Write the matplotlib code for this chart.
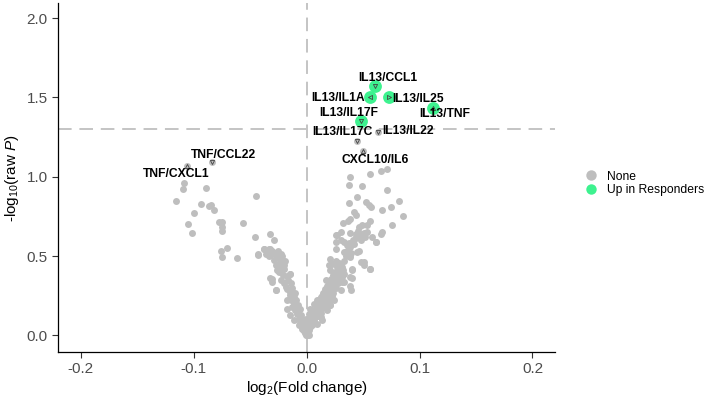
import matplotlib
matplotlib.use('Agg')
import matplotlib.pyplot as plt
from matplotlib.lines import Line2D

plt.rcParams['font.family'] = ['Liberation Sans', 'DejaVu Sans']
plt.rcParams['mathtext.fontset'] = 'custom'
plt.rcParams['mathtext.rm'] = 'Liberation Sans'
plt.rcParams['mathtext.it'] = 'Liberation Sans:italic'
plt.rcParams['mathtext.default'] = 'regular'

# unlabeled / non-significant points (log2 FC, -log10 P)
none_x = [
    # left outer
    -0.1086, -0.1091, -0.0894, -0.1153, -0.0938, -0.0865, -0.0850, -0.0820, -0.0997, -0.0445,
    -0.1050, -0.1012, -0.0776, -0.0752, -0.0746, -0.0746, -0.0564, -0.0460, -0.0319, -0.0289,
    -0.0761, -0.0702, -0.0752, -0.0619, -0.0431, -0.0378, -0.0334, -0.0310, -0.0265, -0.0224,
    -0.0148, -0.0319, -0.0304, -0.0274, -0.0177,
    # left arm
    -0.0431, -0.0378, -0.0357, -0.0319, -0.0304, -0.0259, -0.0215, -0.0289, -0.0274, -0.0259,
    -0.0230, -0.0201, -0.0148, -0.0304, -0.0230, -0.0274, -0.0186, -0.0142, -0.0112, -0.0171,
    -0.0127, -0.0082, -0.0142, -0.0112, -0.0068, -0.0038, -0.0009, 0.0020,
    -0.0235, -0.0215, -0.0195, -0.0245, -0.0175, -0.0210, -0.0160, -0.0195, -0.0140, -0.0170,
    -0.0125, -0.0150, -0.0100, -0.0135, -0.0090, -0.0115, -0.0075, -0.0100, -0.0060, -0.0085,
    -0.0050, -0.0070, -0.0040, -0.0055, -0.0030, -0.0040, -0.0020, -0.0025, -0.0010, -0.0005,
    -0.0280, -0.0330, -0.0255, -0.0230, -0.0190,
    # right outer
    0.0374, 0.0487, 0.0708, 0.0449, 0.0374, 0.0522, 0.0551, 0.0573, 0.0817, 0.0750,
    0.0664, 0.0856, 0.0419, 0.0434, 0.0389, 0.0365, 0.0325, 0.0566, 0.0537, 0.0493,
    0.0463, 0.0758, 0.0664, 0.0655, 0.0619, 0.0507, 0.0434, 0.0272, 0.0265, 0.0257,
    0.0301, 0.0374, 0.0463, 0.0330, 0.0360, 0.0389, 0.0507, 0.0560, 0.0404, 0.0404,
    0.0212, 0.0197, 0.0212, 0.0301, 0.0325, 0.0389, 0.0396, 0.0316, 0.0301, 0.0212,
    0.0383, 0.0566, 0.0655, 0.0708,
    # right arm
    0.0257, 0.0301, 0.0389, 0.0434, 0.0478, 0.0537, 0.0581, 0.0611, 0.0330, 0.0360,
    0.0345, 0.0389, 0.0449, 0.0478, 0.0507, 0.0566, 0.0227, 0.0272, 0.0316, 0.0330,
    0.0404, 0.0389, 0.0330, 0.0242, 0.0183, 0.0153, 0.0124, 0.0095, 0.0065, 0.0035,
    0.0020, -0.0009, -0.0024, 0.0242, 0.0212, 0.0183, 0.0124, 0.0139, 0.0095,
    0.0005, 0.0015, 0.0025, 0.0035, 0.0045, 0.0055, 0.0065, 0.0075, 0.0080, 0.0090,
    0.0105, 0.0115, 0.0130, 0.0145, 0.0155, 0.0170, 0.0180, 0.0195, 0.0210, 0.0225,
    0.0240, 0.0255, 0.0270, 0.0285, 0.0300, 0.0250, 0.0230, 0.0215, 0.0200, 0.0185,
    0.0165, 0.0150, 0.0135, 0.0120, 0.0110, 0.0095, 0.0080, 0.0070, 0.0060, 0.0050,
    0.0040, 0.0030, 0.0315, 0.0290, 0.0260, 0.0330, 0.0345, 0.0365, 0.0385, 0.0410,
    0.0420, 0.0440, 0.0460, 0.0480, 0.0520, 0.0395, 0.0280, 0.0170, 0.0160, 0.0140,
    0.0105, 0.0130, 0.0175, 0.0205, 0.0235, 0.0265, 0.0195, 0.0225, 0.0275, 0.0310,
]
none_y = [
    0.961, 0.921, 0.926, 0.845, 0.831, 0.814, 0.820, 0.793, 0.772, 0.877,
    0.700, 0.645, 0.715, 0.715, 0.683, 0.658, 0.709, 0.620, 0.637, 0.604,
    0.532, 0.551, 0.494, 0.488, 0.509, 0.547, 0.547, 0.530, 0.494, 0.498,
    0.385, 0.360, 0.336, 0.288, 0.168,
    0.511, 0.547, 0.515, 0.547, 0.511, 0.494, 0.498, 0.473, 0.442, 0.410,
    0.431, 0.442, 0.389, 0.358, 0.347, 0.284, 0.305, 0.273, 0.242, 0.221,
    0.179, 0.158, 0.126, 0.095, 0.063, 0.042, 0.021, 0.000,
    0.462, 0.455, 0.420, 0.400, 0.372, 0.380, 0.350, 0.330, 0.330, 0.290,
    0.300, 0.255, 0.265, 0.220, 0.225, 0.195, 0.190, 0.160, 0.165, 0.135,
    0.130, 0.105, 0.100, 0.080, 0.070, 0.050, 0.040, 0.025, 0.012, 0.003,
    0.520, 0.500, 0.530, 0.510, 0.470,
    0.946, 0.940, 0.919, 0.873, 0.837, 0.841, 0.820, 0.806, 0.847, 0.806,
    0.789, 0.751, 0.778, 0.757, 0.736, 0.721, 0.709, 0.721, 0.694, 0.694,
    0.683, 0.694, 0.652, 0.637, 0.589, 0.642, 0.616, 0.631, 0.589, 0.547,
    0.599, 0.585, 0.530, 0.526, 0.505, 0.494, 0.462, 0.421, 0.421, 0.364,
    0.484, 0.442, 0.410, 0.435, 0.410, 0.309, 0.284, 0.336, 0.284, 0.189,
    0.999, 1.014, 1.035, 1.049,
    0.631, 0.652, 0.642, 0.620, 0.631, 0.652, 0.620, 0.589, 0.589, 0.568,
    0.526, 0.505, 0.526, 0.462, 0.442, 0.421, 0.452, 0.431, 0.410, 0.389,
    0.410, 0.368, 0.336, 0.315, 0.284, 0.263, 0.242, 0.221, 0.200, 0.168,
    0.137, 0.105, 0.074, 0.221, 0.189, 0.158, 0.115, 0.095, 0.074,
    0.005, 0.018, 0.035, 0.050, 0.065, 0.085, 0.095, 0.115, 0.135, 0.150,
    0.165, 0.185, 0.190, 0.210, 0.225, 0.240, 0.255, 0.265, 0.285, 0.300,
    0.330, 0.345, 0.360, 0.380, 0.395, 0.400, 0.380, 0.355, 0.330, 0.310,
    0.290, 0.270, 0.250, 0.230, 0.210, 0.195, 0.175, 0.155, 0.135, 0.110,
    0.090, 0.070, 0.430, 0.455, 0.470, 0.470, 0.500, 0.540, 0.560, 0.600,
    0.575, 0.640, 0.660, 0.600, 0.620, 0.520, 0.410, 0.350, 0.200, 0.170,
    0.125, 0.140, 0.185, 0.235, 0.270, 0.300, 0.215, 0.250, 0.330, 0.365,
]

# labeled points
lab_names = ['IL13/CCL1', 'IL13/IL1A', 'IL13/IL25', 'IL13/TNF', 'IL13/IL17F',
             'IL13/IL17C', 'IL13/IL22', 'CXCL10/IL6', 'TNF/CCL22', 'TNF/CXCL1']
lab_x = [0.0610, 0.0560, 0.0730, 0.1120, 0.0480, 0.0449, 0.0634, 0.0498, -0.0835, -0.1056]
lab_y = [1.571, 1.504, 1.500, 1.434, 1.350, 1.228, 1.283, 1.163, 1.091, 1.066]
lab_up = [True, True, True, True, True, False, False, False, False, False]
lab_tx = [0.0717, 0.0283, 0.0991, 0.1221, 0.0372, 0.0319, 0.0903, 0.0606, -0.0735, -0.1150]
lab_ty = [1.621, 1.497, 1.489, 1.394, 1.403, 1.281, 1.289, 1.104, 1.138, 1.016]
lab_mark = ['v', '<', '>', '^', 'v', 'v', 'v', '^', 'v', '^']

grey = '#BEBEBE'
green = '#3DF28F'

fig = plt.figure(figsize=(7.08, 3.99), dpi=100)
ax = fig.add_axes([0.0819, 0.1178, 0.7021, 0.8747])

ax.axhline(1.30103, color='#C4C4C4', lw=1.4, dashes=(7, 4), zorder=1)
ax.axvline(0, color='#C4C4C4', lw=1.4, dashes=(7, 4), zorder=1)

ax.scatter(none_x, none_y, s=25, color=grey, lw=0, zorder=2)
up_x = [x for x, u in zip(lab_x, lab_up) if u]
up_y = [y for y, u in zip(lab_y, lab_up) if u]
dn_x = [x for x, u in zip(lab_x, lab_up) if not u]
dn_y = [y for y, u in zip(lab_y, lab_up) if not u]
ax.scatter(dn_x, dn_y, s=25, color=grey, lw=0, zorder=2)
ax.scatter(up_x, up_y, s=85, color=green, lw=0, zorder=3)

for n, x, y, tx, ty, m in zip(lab_names, lab_x, lab_y, lab_tx, lab_ty, lab_mark):
    ax.plot(x, y, marker=m, ms=3.0, mfc='none', mec='#444444', mew=0.6, zorder=4)
    ax.text(tx, ty, n, ha='center', va='center', fontsize=8.7,
            fontweight='bold', color='black', zorder=5)

ax.set_xlim(-0.22, 0.22)
ax.set_ylim(-0.105, 2.095)
ax.set_xticks([-0.2, -0.1, 0.0, 0.1, 0.2])
ax.set_xticklabels(['-0.2', '-0.1', '0.0', '0.1', '0.2'])
ax.set_yticks([0.0, 0.5, 1.0, 1.5, 2.0])
ax.tick_params(labelsize=11, labelcolor='#4D4D4D', color='#333333', length=4, width=0.8)
for s in ['top', 'right']:
    ax.spines[s].set_visible(False)
for s in ['left', 'bottom']:
    ax.spines[s].set_linewidth(0.9)
ax.set_xlabel('log$_2$(Fold change)', fontsize=11, labelpad=2)
ax.set_ylabel('-log$_{10}$(raw $\\mathit{P}$)', fontsize=11, labelpad=4)

handles = [
    Line2D([], [], marker='o', ls='none', ms=7.5, color=grey, mec='none', label='None'),
    Line2D([], [], marker='o', ls='none', ms=7.5, color=green, mec='none', label='Up in Responders'),
]
fig.legend(handles=handles, loc='center left', bbox_to_anchor=(0.82, 0.541), frameon=False,
           fontsize=8.7, handletextpad=0.75, labelspacing=0.1, handlelength=1.0, borderaxespad=0)

fig.savefig('out.png', dpi=100)
